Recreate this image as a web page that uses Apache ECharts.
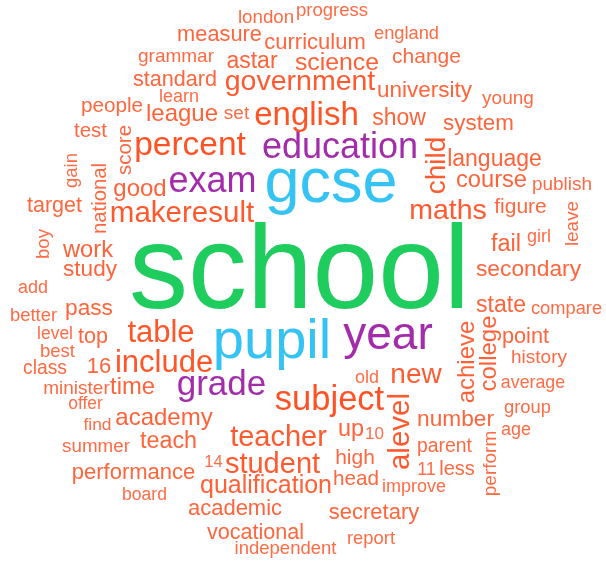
<!DOCTYPE html>
<html>
<head>
<meta charset="utf-8">
<script src="https://cdn.jsdelivr.net/npm/echarts@6/dist/echarts.min.js"></script>
<style>
  html, body { margin: 0; padding: 0; background: #fff; }
  #chart { width: 606px; height: 563px; }
</style>
</head>
<body>
<div id="chart"></div>
<script>
  // words and their weights
  const words = ['school','gcse','pupil','year','education','exam','grade','subject','percent','english',
    'table','include','makeresult','government','maths','teacher','student','new','child','alevel',
    'qualification','astar','science','league','good','academy','achieve','college','time','work',
    'course','fail','up','teach','show','language','state','secondary','pass','number',
    'study','university','system','curriculum','16','academic','secretary','performance','standard','point',
    'top','vocational','target','measure','change','figure','high','people','head','test',
    'score','national','less','parent','class','grammar','set','young','publish','minister',
    'history','perform','leave','summer','london','boy','gain','progress','best','independent',
    'group','better','report','england','compare','add','girl','old','improve','age',
    '11','learn','average','board','level','offer','find','10','14'];
  const freq = [1180,630,560,460,360,360,350,345,335,330,
    310,310,295,285,285,290,290,280,280,295,
    250,230,248,240,240,240,240,240,238,237,
    237,235,234,233,230,230,230,228,227,227,
    226,225,224,220,220,220,220,220,216,217,
    216,216,215,218,210,210,210,207,207,205,
    205,203,200,194,193,190,190,190,190,190,
    190,190,189,188,187,186,185,185,185,185,
    184,184,184,183,183,180,180,180,180,180,
    180,180,178,176,175,175,174,170,165];
  // position of each word in the cloud's layout space (0..606 across, 0..563 down)
  const posX = [299.5,331,272,388,340,212.5,221.5,329.5,190,306.5,
    161,164,182,300,448,278.5,272.5,416,437,401,
    266,252,337,182,140,164,467,489,132.5,88,
    491.5,506,351,168.5,399,494.5,501,528.5,89,455.5,
    90,424.5,478.5,315,99,235,374,133.5,175,525.5,
    93,255.5,54.5,219.5,426.5,520.5,355,112,356,90.5,
    125,100.5,457,444.5,45,176,236.5,508,562,76.5,
    539,491,573,96,266,44,72,332,57.5,285.5,
    527.5,33.5,371,406.5,566.5,33,539,367,414,516,
    426.5,179,533,144.5,55,85.5,97.5,374.5,213.5];
  const posY = [275,184.5,343,336,148,182,385,400,146,116,
    333.5,363.5,214,82.3,211.3,438,465,375.5,165.5,431.5,
    486.5,62,63.6,114.8,189,418,362,353.5,387,250,
    180,245,430,442,119,160,306,270,309,420,
    270,91,124,42.5,366.5,508.5,512.5,472.5,79.6,336.6,
    336.6,532.6,205.7,34.6,57,207,458,106,479,131,
    150,198.5,469,446.4,368.4,56.5,113.5,98.5,184.5,388.5,
    357.5,463.5,223.5,446.6,17.6,244,170.5,10.7,351.7,548.7,
    407.7,315.7,538.7,33.8,308.8,288,237,378,487,430,
    470,97,383,495,334,404,425,434,462];
  // words set upright (reading bottom to top)
  const vertical = ['child','alevel','achieve','college','score','national','perform','leave','boy','gain'];

  function mix(a, b, t) {
    const pa = [1,3,5].map(i => parseInt(a.substr(i, 2), 16));
    const pb = [1,3,5].map(i => parseInt(b.substr(i, 2), 16));
    return 'rgb(' + pa.map((v, i) => Math.round(v + (pb[i] - v) * t)).join(',') + ')';
  }
  function colorFor(f) {
    if (f >= 1000) return '#1fcc5e';
    if (f >= 550) return '#35c3f3';
    if (f >= 350) return '#a32cab';
    let t = Math.min(1, Math.max(0, (340 - f) / (340 - 165)));
    return mix('#ff5123', '#ff6e48', t);
  }

  const data = words.map((w, i) => ({
    name: w,
    value: [posX[i], posY[i]],
    label: {
      fontSize: freq[i] / 10,
      color: colorFor(freq[i]),
      rotate: vertical.indexOf(w) >= 0 ? 90 : 0
    }
  }));

  const chart = echarts.init(document.getElementById('chart'));
  chart.setOption({
    animation: false,
    backgroundColor: '#fff',
    grid: { left: 0, right: 0, top: 0, bottom: 0 },
    xAxis: { type: 'value', min: 0, max: 606, show: false },
    yAxis: { type: 'value', min: 0, max: 563, inverse: true, show: false },
    series: [{
      type: 'scatter',
      symbolSize: 1,
      itemStyle: { color: 'rgba(255,255,255,0)', opacity: 1 },
      silent: true,
      label: {
        show: true,
        position: 'inside',
        formatter: '{b}',
        fontFamily: '"Liberation Sans", Arial, sans-serif',
        textBorderWidth: 0
      },
      data: data
    }]
  });
</script>
</body>
</html>
